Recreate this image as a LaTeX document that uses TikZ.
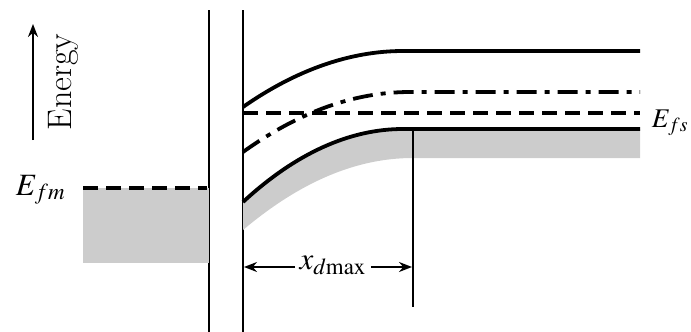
\documentclass[tikz,border=0pt]{standalone}
\usepackage{mathptmx}
\usetikzlibrary{arrows.meta,positioning,calc}

\begin{document}
\begin{tikzpicture}[
  x=0.5pt, y=-0.5pt,
  wall/.style     = {line width=1.1pt},
  bandedge/.style = {line width=1.9pt},
  fermi/.style    = {line width=1.9pt, dash pattern=on 7.5pt off 4pt},
  intrinsic/.style= {line width=1.9pt, dash pattern=on 10pt off 4pt on 2.5pt off 4pt},
  occupied/.style = {fill=gray!40, draw=none},
  lbl/.style      = {font=\fontsize{15.5}{17}\selectfont, inner sep=2pt},
  arr/.style      = {->, >={Stealth[length=6.5pt, width=5pt]}, line width=0.9pt},
]
\useasboundingbox (0,0) rectangle (691,332);
% oxide walls
\coordinate (oxTop) at (209,10);  \coordinate (oxBot) at (209,332);
\coordinate (scTop) at (243,10);  \coordinate (scBot) at (243,332);
\draw[wall] (oxTop) -- (oxBot);
\draw[wall] (scTop) -- (scBot);
% energy axis
\coordinate (enBot) at (33,140);
\coordinate (enTop) at (33,24);
\draw[arr] (enBot) -- (enTop);
\node[rotate=90, anchor=base, font=\fontsize{17}{19}\selectfont] (energy)
     at (71,82) {Energy};
% metal
\coordinate (fmL) at (83,188);
\coordinate (fmR) at (207,188);
\fill[occupied] (fmL) rectangle (209,263);
\draw[fermi] (fmL) -- (fmR);
\node[lbl, anchor=base east] (efm) at (70,195) {$E_{fm}$};
% semiconductor
\coordinate (fsL) at (243,113);
\coordinate (fsR) at (640,113);
\fill[occupied] (243,202) .. controls (296,153) and (350,129) .. (403,129)
     -- (640,129) -- (640,158) -- (413,158)
     .. controls (356,158) and (300,182) .. (243,230) -- cycle;
\draw[bandedge] (243,107) .. controls (296,70) and (350,51) .. (403,51) -- (640,51);
\draw[intrinsic] (243,152) .. controls (299,112) and (354,92) .. (410,92) -- (640,92);
\draw[fermi] (fsL) -- (fsR);
\draw[bandedge] (243,202) .. controls (296,153) and (350,129) .. (403,129) -- (640,129);
\node[lbl, font=\fontsize{13.5}{15}\selectfont, anchor=base east, inner sep=0pt]
     (efs) at (689,127) {$E_{fs}$};
% depletion width
\coordinate (xdTop) at (413,129);
\coordinate (xdBot) at (413,307);
\draw[wall] (xdTop) -- (xdBot);
\coordinate (xdL) at (244,267);
\coordinate (xdR) at (412,267);
\node[lbl, anchor=base] (xd) at (333,269) {$x_{d\mathrm{max}}$};
\draw[arr] (xd.west |- xdL) -- (xdL);
\draw[arr] (xd.east |- xdR) -- (xdR);
\end{tikzpicture}
\end{document}
